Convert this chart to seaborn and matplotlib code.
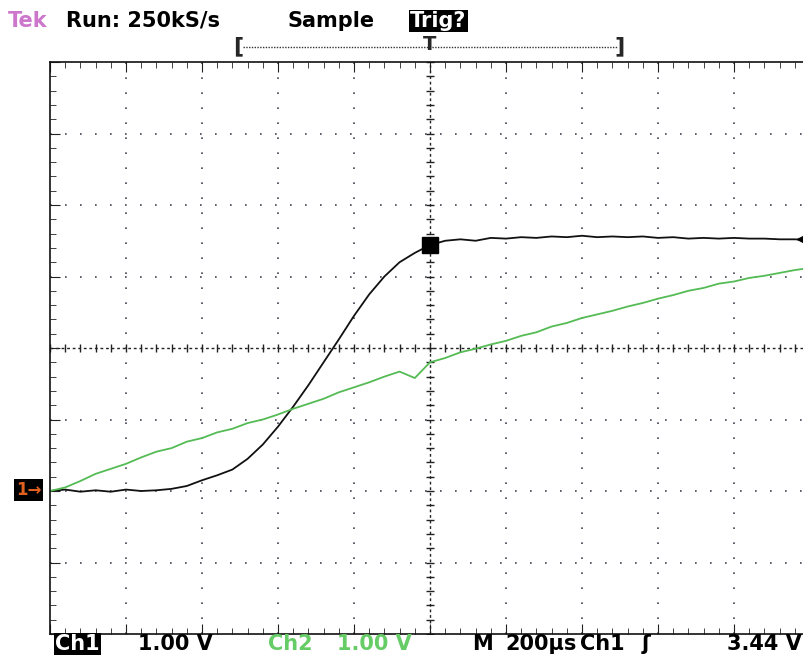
import matplotlib
matplotlib.use("Agg")
import matplotlib.pyplot as plt
from matplotlib.lines import Line2D
import pandas as pd
import seaborn as sns

# time axis in microseconds (200 us/div, trigger at centre)
t_us = list(range(-1000, 1001, 40))

# Ch1 (black) in volts, ground two divisions below centre
ch1_v = [
    0.00, 0.02, -0.01, 0.01, -0.01, 0.02, 0.00, 0.01, 0.03, 0.07,
    0.15, 0.22, 0.30, 0.45, 0.65, 0.90, 1.18, 1.48, 1.80, 2.12,
    2.45, 2.75, 3.00, 3.20, 3.33, 3.44, 3.50, 3.52, 3.50, 3.54,
    3.53, 3.55, 3.54, 3.56, 3.55, 3.57, 3.55, 3.56, 3.55, 3.56,
    3.54, 3.55, 3.53, 3.54, 3.53, 3.54, 3.53, 3.53, 3.52, 3.52,
    3.51,
]

# Ch2 (green) in volts
ch2_v = [
    0.00, 0.05, 0.14, 0.24, 0.31, 0.38, 0.47, 0.55, 0.60, 0.69,
    0.74, 0.82, 0.87, 0.95, 1.00, 1.07, 1.15, 1.22, 1.29, 1.38,
    1.45, 1.52, 1.60, 1.67, 1.58, 1.80, 1.86, 1.94, 1.99, 2.05,
    2.10, 2.17, 2.22, 2.30, 2.35, 2.42, 2.47, 2.52, 2.58, 2.63,
    2.69, 2.74, 2.80, 2.84, 2.90, 2.93, 2.98, 3.01, 3.05, 3.09,
    3.12,
]

trig_level = 3.44

W, H = 804, 657

df = pd.concat([
    pd.DataFrame({"t": t_us, "v": ch1_v, "ch": "Ch1"}),
    pd.DataFrame({"t": t_us, "v": ch2_v, "ch": "Ch2"}),
])

sns.set_style("white")
plt.rcParams["font.family"] = ["DejaVu Sans"]

fig = plt.figure(figsize=(W / 100, H / 100), dpi=100)
ax = fig.add_axes([50 / W, (H - 634) / H, 760 / W, 572 / H])

# graticule
for x in range(-800, 1000, 200):
    if x != 0:
        ax.axvline(x, color="#445", lw=1.2, ls=(0, (1, 8)), zorder=0)
for y in range(-1, 6):
    if y != 2:
        ax.axhline(y, color="#445", lw=1.2, ls=(0, (1, 8)), zorder=0)
ax.axvline(0, color="#222", lw=1.0, ls=(0, (2, 2)), zorder=0)
ax.axhline(2, color="#222", lw=1.0, ls=(0, (2, 2)), zorder=0)
ax.plot(range(-1000, 1001, 40), [2] * 51, ls="none", marker="|", ms=6,
        color="#222", mew=1, zorder=0)
ax.plot([0] * 41, [i / 5 - 2 for i in range(41)], ls="none", marker="_",
        ms=6, color="#222", mew=1, zorder=0)

sns.lineplot(data=df, x="t", y="v", hue="ch",
             palette={"Ch1": "#111111", "Ch2": "#55bb55"},
             estimator=None, sort=False, legend=False, lw=1.3, ax=ax)

ax.set_xlim(-1000, 1000)
ax.set_ylim(-2, 6)
ax.set_xticks(range(-1000, 1001, 200))
ax.set_xticks(range(-1000, 1001, 40), minor=True)
ax.set_yticks(range(-2, 7))
ax.set_yticks([i / 5 - 2 for i in range(41)], minor=True)
ax.tick_params(which="both", direction="in", top=True, bottom=True,
               left=True, right=False, labelbottom=False, labelleft=False,
               color="#222")
ax.tick_params(which="major", length=7)
ax.tick_params(which="minor", length=4)
ax.set_xlabel("")
ax.set_ylabel("")
for s in ["left", "top", "bottom"]:
    ax.spines[s].set_color("#111")
    ax.spines[s].set_linewidth(1.2)

# trigger markers
ax.plot([0], [trig_level], marker="s", ms=12, color="black", zorder=5)
ax.plot([988], [3.52], marker="<", ms=11, color="black", clip_on=False,
        zorder=5)


def ftxt(x, y, s, **kw):
    kw.setdefault("fontsize", 15)
    kw.setdefault("va", "center")
    kw.setdefault("fontweight", "bold")
    kw.setdefault("family", ["DejaVu Sans"])
    return fig.text(x / W, 1 - y / H, s, **kw)


# top status line
ftxt(8, 21, "Tek", color="#cc77cc")
ftxt(66, 21, "Run: 250kS/s", color="black")
ftxt(288, 21, "Sample", color="black")
ftxt(410, 21, "Trig?", color="white",
     bbox=dict(facecolor="black", edgecolor="none", pad=1.0))
ftxt(233, 46, "[", fontsize=16)
ftxt(625, 46, "]", fontsize=16, ha="right")
ftxt(430, 44, "T", ha="center", fontsize=14)
fig.add_artist(Line2D([243 / W, 617 / W], [1 - 47 / H] * 2, color="#333",
                      lw=1, ls=(0, (1, 1))))

# channel ground marker
ftxt(16, 490, "1\u2192", color="#e06020", fontsize=12,
     bbox=dict(facecolor="black", edgecolor="none", pad=1.5))

# bottom status line
ftxt(55, 644, "Ch1", color="white",
     bbox=dict(facecolor="black", edgecolor="none", pad=0.8))
ftxt(138, 644, "1.00 V", color="black")
ftxt(268, 644, "Ch2", color="#66cc66")
ftxt(337, 644, "1.00 V", color="#66cc66")
ftxt(472, 644, "M", color="black")
ftxt(505, 644, "200\u00b5s", color="black")
ftxt(580, 644, "Ch1", color="black")
ftxt(642, 644, "\u0283", color="black")
ftxt(802, 644, "3.44 V", color="black", ha="right")

fig.savefig("out.png", dpi=100)
